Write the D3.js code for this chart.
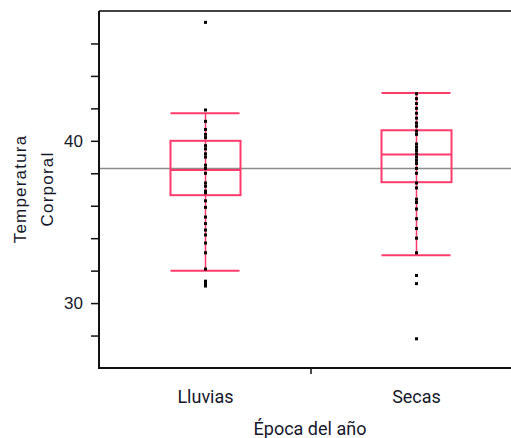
<!DOCTYPE html>
<html>
<head>
<meta charset="utf-8">
<script src="https://cdn.jsdelivr.net/npm/d3@7"></script>
<style>
  body { margin: 0; background: #fff; }
  svg { display: block; }
</style>
</head>
<body>
<div id="chart"></div>
<script>
// categories and values
const seasons = ["Lluvias", "Secas"];
const lluviasTemps = [47.3, 41.9, 41.2, 40.7, 40.4, 40.2, 39.7, 39.5, 39.2, 39.0, 38.5, 38.3, 38.0,
    37.4, 37.2, 36.9, 36.8, 36.3, 35.9, 35.3, 34.9, 34.5, 34.2, 33.7, 33.1, 32.1, 31.05, 31.2, 31.35];
const secasTemps = [42.9, 42.6, 42.3, 42.0, 41.7, 41.4, 41.1, 40.9, 40.6, 40.4, 39.8, 39.6, 39.4, 39.2,
    39.0, 38.8, 38.6, 38.3, 38.0, 37.4, 37.1, 36.4, 36.2, 35.8, 35.2, 34.6, 34.0, 33.1, 31.7, 31.2, 27.8];
const whiskerLow = [32.0, 32.95];
const boxLow = [36.65, 37.45];
const boxMedian = [38.2, 39.15];
const boxHigh = [40.0, 40.65];
const whiskerHigh = [41.7, 42.95];
const grandMean = 38.3;
const yTicks = [28, 30, 32, 34, 36, 38, 40, 42, 44, 46];
const yLabels = [30, 40];

const width = 511, height = 438;
const plotLeft = 99, plotTop = 11, plotBottom = 368, plotRight = 522;
const pink = "#ff3b6b";
const ink = "#15182a";

const svg = d3.select("#chart").append("svg")
    .attr("width", width)
    .attr("height", height);

const y = d3.scaleLinear().domain([26, 48]).range([plotBottom, plotTop]);
const x = d3.scaleBand().domain(seasons).range([plotLeft + 1, plotRight]).padding(0);

// grand mean line
svg.append("line")
    .attr("x1", plotLeft).attr("x2", width)
    .attr("y1", y(grandMean)).attr("y2", y(grandMean))
    .attr("stroke", "#8c8c8c").attr("stroke-width", 1.5);

// boxes
const boxW = 70;
const groups = seasons.map((s, i) => ({
    name: s,
    lo: whiskerLow[i], q1: boxLow[i], med: boxMedian[i], q3: boxHigh[i], hi: whiskerHigh[i],
    vals: i === 0 ? lluviasTemps : secasTemps
}));

const g = svg.selectAll("g.box").data(groups).enter().append("g")
    .attr("class", "box")
    .attr("transform", d => "translate(" + (x(d.name) + x.bandwidth() / 2) + ",0)");

g.append("line")
    .attr("x1", 0).attr("x2", 0)
    .attr("y1", d => y(d.lo)).attr("y2", d => y(d.hi))
    .attr("stroke", pink).attr("stroke-width", 1.5);

g.selectAll("line.cap").data(d => [d.lo, d.hi]).enter().append("line")
    .attr("class", "cap")
    .attr("x1", -boxW / 2).attr("x2", boxW / 2 - 1)
    .attr("y1", d => y(d)).attr("y2", d => y(d))
    .attr("stroke", pink).attr("stroke-width", 2);

g.append("rect")
    .attr("x", -boxW / 2).attr("width", boxW)
    .attr("y", d => y(d.q3))
    .attr("height", d => y(d.q1) - y(d.q3))
    .attr("fill", "none").attr("stroke", pink).attr("stroke-width", 2);

g.append("line")
    .attr("x1", -boxW / 2).attr("x2", boxW / 2)
    .attr("y1", d => y(d.med)).attr("y2", d => y(d.med))
    .attr("stroke", pink).attr("stroke-width", 2);

// data points
g.selectAll("rect.pt").data(d => d.vals).enter().append("rect")
    .attr("class", "pt")
    .attr("x", -1.5).attr("width", 3)
    .attr("y", d => y(d) - 1.5).attr("height", 3)
    .attr("fill", "#000");

// frame: top, left, bottom
svg.append("line")
    .attr("x1", plotLeft).attr("x2", width).attr("y1", plotTop).attr("y2", plotTop)
    .attr("stroke", "#444").attr("stroke-width", 2);

const yAxis = svg.append("g")
    .attr("transform", "translate(" + plotLeft + ",0)")
    .call(d3.axisLeft(y).tickValues(yTicks).tickSize(8)
        .tickFormat(d => yLabels.includes(d) ? d : ""));
yAxis.select(".domain").attr("stroke", "#111").attr("stroke-width", 2)
    .attr("d", "M0," + plotTop + "V" + plotBottom);
yAxis.selectAll(".tick line").attr("stroke", "#111").attr("stroke-width", 1.5);
yAxis.selectAll(".tick text")
    .attr("x", -16)
    .attr("font-family", "Liberation Sans, Arial, sans-serif")
    .attr("font-size", 17).attr("fill", ink);

svg.append("line")
    .attr("x1", plotLeft - 1).attr("x2", width).attr("y1", plotBottom).attr("y2", plotBottom)
    .attr("stroke", "#111").attr("stroke-width", 2);

// x tick between categories
svg.append("line")
    .attr("x1", x("Secas")).attr("x2", x("Secas"))
    .attr("y1", plotBottom).attr("y2", plotBottom + 6)
    .attr("stroke", "#111").attr("stroke-width", 1.5);

svg.selectAll("text.cat").data(seasons).enter().append("text")
    .attr("class", "cat")
    .attr("x", d => x(d) + x.bandwidth() / 2)
    .attr("y", 403)
    .attr("text-anchor", "middle")
    .attr("font-family", "Roboto, sans-serif")
    .attr("font-size", 18).attr("fill", ink)
    .text(d => d);

svg.append("text")
    .attr("x", 310).attr("y", 435)
    .attr("text-anchor", "middle")
    .attr("font-family", "Roboto, sans-serif")
    .attr("font-size", 18).attr("fill", ink)
    .text("Época del año");

// y title, two lines
[["Temperatura", 26], ["Corporal", 53]].forEach(function(t) {
    svg.append("text")
        .attr("transform", "translate(" + t[1] + ",189) rotate(-90)")
        .attr("text-anchor", "middle")
        .attr("font-family", "Liberation Sans, Arial, sans-serif")
        .attr("font-size", 17).attr("letter-spacing", 1.2)
        .attr("fill", ink)
        .text(t[0]);
});
</script>
</body>
</html>
